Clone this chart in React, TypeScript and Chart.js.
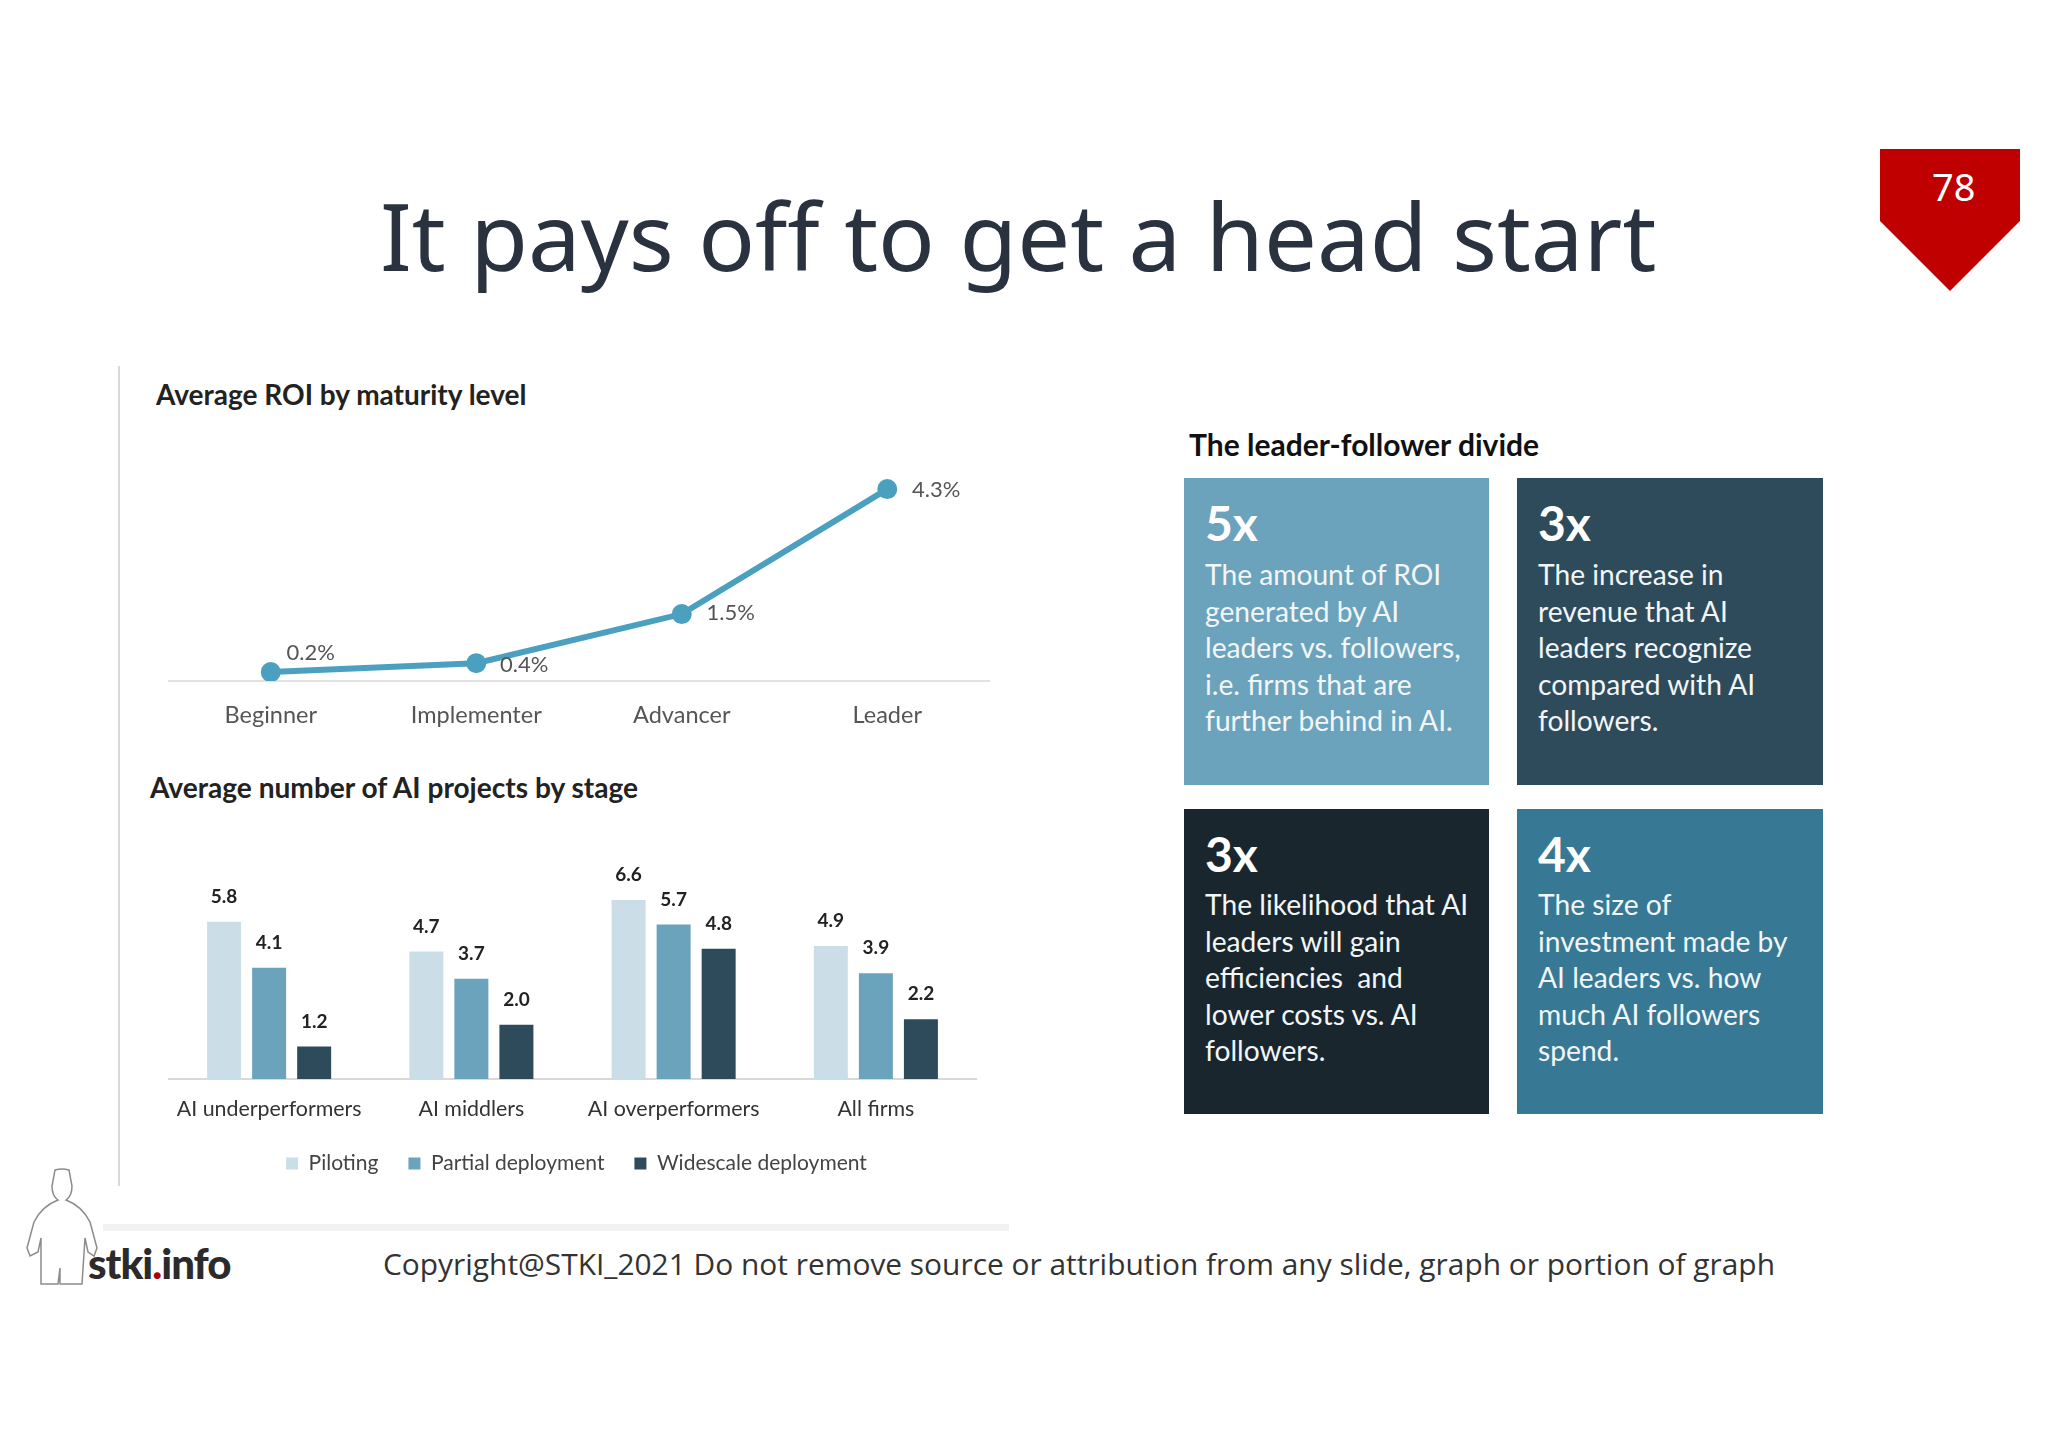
import { useEffect, useRef } from "react";
import { Chart, registerables } from "chart.js";

Chart.register(...registerables);

const roiLevels = ["Beginner", "Implementer", "Advancer", "Leader"];
const roiValues = [0.2, 0.4, 1.5, 4.3];

const projectGroups = ["AI underperformers", "AI middlers", "AI overperformers", "All firms"];
const piloting = [5.8, 4.7, 6.6, 4.9];
const partialDeployment = [4.1, 3.7, 5.7, 3.9];
const widescaleDeployment = [1.2, 2.0, 4.8, 2.2];

const cards = [
  { big: "5x", bg: "#6CA3BC", left: 1184, top: 478, lines: ["The amount of ROI", "generated by AI", "leaders vs. followers,", "i.e. firms that are", "further behind in AI."] },
  { big: "3x", bg: "#2E4B5C", left: 1517, top: 478, lines: ["The increase in", "revenue that AI", "leaders recognize", "compared with AI", "followers."] },
  { big: "3x", bg: "#1A262E", left: 1184, top: 809, lines: ["The likelihood that AI", "leaders will gain", "efficiencies  and", "lower costs vs. AI", "followers."] },
  { big: "4x", bg: "#377994", left: 1517, top: 809, lines: ["The size of", "investment made by", "AI leaders vs. how", "much AI followers", "spend."] },
];

const FONT = "Lato";

// value labels, drawn next to each element of a dataset
const valueLabels = {
  id: "valueLabels",
  afterDatasetsDraw(chart: any, _args: any, opts: any) {
    const { ctx } = chart;
    chart.data.datasets.forEach((ds: any, d: number) => {
      chart.getDatasetMeta(d).data.forEach((el: any, i: number) => {
        const off = opts.offsets ? opts.offsets[i] : [0, opts.dy];
        ctx.save();
        ctx.font = opts.font;
        ctx.fillStyle = opts.color;
        ctx.textAlign = "center";
        ctx.textBaseline = "middle";
        ctx.fillText(opts.format(ds.data[i]), el.x + off[0], el.y + off[1]);
        ctx.restore();
      });
    });
  },
};

// legend sits a little right of the canvas centre in the original
const nudgeLegend = {
  id: "nudgeLegend",
  afterLayout(chart: any) {
    chart.legend.left += 4;
    chart.legend.right += 4;
  },
};

function RoiChart() {
  const canvasRef = useRef<HTMLCanvasElement | null>(null);

  useEffect(() => {
    if (!canvasRef.current) return;
    const chart = new Chart(canvasRef.current, {
      type: "line",
      data: {
        labels: roiLevels,
        datasets: [
          {
            data: roiValues,
            borderColor: "#4BA0BF",
            backgroundColor: "#4BA0BF",
            borderWidth: 6,
            pointRadius: 7,
            tension: 0,
          },
        ],
      },
      plugins: [valueLabels],
      options: {
        animation: false,
        responsive: false,
        devicePixelRatio: 1,
        layout: { padding: 0, autoPadding: false },
        plugins: {
          legend: { display: false },
          tooltip: { enabled: false },
          valueLabels: {
            font: `22px ${FONT}`,
            color: "#555",
            format: (v: number) => `${v.toFixed(1)}%`,
            offsets: [[40, -19], [48, 2], [49, -1], [49, 1]],
          },
        } as any,
        scales: {
          x: {
            offset: true,
            grid: { display: false, tickLength: 20 },
            border: { color: "#E2E2E2", width: 2 },
            ticks: { color: "#555", padding: 0, font: { family: FONT, size: 23.5 }, autoSkip: false, maxRotation: 0 },
            afterFit: (s: any) => {
              s.height = 50;
            },
          },
          y: { display: false, min: 0, max: 5.4 },
        },
      },
    });
    return () => chart.destroy();
  }, []);

  return <canvas ref={canvasRef} width={822} height={291} style={{ position: "absolute", left: 168, top: 440 }} />;
}

function ProjectsChart() {
  const canvasRef = useRef<HTMLCanvasElement | null>(null);

  useEffect(() => {
    if (!canvasRef.current) return;
    const bar = { categoryPercentage: 0.668, barPercentage: 0.755 };
    const chart = new Chart(canvasRef.current, {
      type: "bar",
      data: {
        labels: projectGroups,
        datasets: [
          { label: "Piloting", data: piloting, backgroundColor: "#CBDDE7", ...bar },
          { label: "Partial deployment", data: partialDeployment, backgroundColor: "#6CA3BC", ...bar },
          { label: "Widescale deployment", data: widescaleDeployment, backgroundColor: "#2E4B5C", ...bar },
        ],
      },
      plugins: [valueLabels, nudgeLegend],
      options: {
        animation: false,
        responsive: false,
        devicePixelRatio: 1,
        layout: { padding: 0 },
        plugins: {
          tooltip: { enabled: false },
          legend: {
            position: "bottom",
            labels: { boxWidth: 12, boxHeight: 12, padding: 30, color: "#444", font: { family: FONT, size: 21 } },
          },
          valueLabels: {
            font: `bold 19px ${FONT}`,
            color: "#222",
            dy: -25,
            format: (v: number) => v.toFixed(1),
          },
        } as any,
        scales: {
          x: {
            grid: { display: false, tickLength: 17 },
            border: { color: "#D9D9D9", width: 2 },
            ticks: { color: "#333", padding: 0, font: { family: FONT, size: 21.4 }, autoSkip: false, maxRotation: 0 },
            afterFit: (s: any) => {
              s.height = 44;
            },
          },
          y: { display: false, min: 0, max: 8 },
        },
      },
    });
    return () => chart.destroy();
  }, []);

  return <canvas ref={canvasRef} width={809} height={322} style={{ position: "absolute", left: 168, top: 862 }} />;
}

const abs = (left: number, top: number, rest: any = {}) => ({ position: "absolute" as const, left, top, whiteSpace: "pre" as const, ...rest });

export default function App() {
  return (
    <div style={{ position: "absolute", left: 0, top: 0, width: 2048, height: 1448, background: "#fff", overflow: "hidden", fontFamily: FONT }}>
      <div style={abs(380, 175, { fontFamily: "Noto Sans", fontSize: 94, lineHeight: "120px", color: "#2A3240" })}>It pays off to get a head start</div>

      <svg width={2048} height={1448} style={{ position: "absolute", left: 0, top: 0 }}>
        <polygon points="1880,149 2020,149 2020,221 1950,291 1880,221" fill="#C00000" />
        <rect x={118} y={366} width={2} height={820} fill="#D9D9D9" />
        <rect x={103} y={1224} width={906} height={7} fill="#F2F2F2" />
        {/* logo figure */}
        <path
          d="M55 1170 Q62 1168 69 1170 L72 1186 Q72 1196 66 1200 Q82 1206 90 1222 L97 1248 L94 1256 L88 1252 L85 1238 L82 1284 L60 1284 L60 1268 L58 1284 L41 1284 L41 1238 L38 1252 L30 1256 L27 1248 L34 1222 Q42 1206 58 1200 Q52 1196 52 1186 Z"
          fill="none"
          stroke="#8C8C8C"
          strokeWidth={1.5}
        />
      </svg>

      <div style={abs(1932, 164, { fontFamily: "Noto Sans", fontSize: 38, lineHeight: "44px", color: "#fff" })}>78</div>

      <div style={abs(156, 379, { fontWeight: 700, fontSize: 28, lineHeight: "30px", color: "#222" })}>Average ROI by maturity level</div>
      <RoiChart />
      <div style={abs(150, 772, { fontWeight: 700, fontSize: 28.1, lineHeight: "30px", color: "#222" })}>Average number of AI projects by stage</div>
      <ProjectsChart />

      <div style={abs(1189, 428, { fontWeight: 700, fontSize: 30, lineHeight: "32px", color: "#111" })}>The leader-follower divide</div>
      {cards.map((c, i) => (
        <div key={i} style={{ position: "absolute", left: c.left, top: c.top, width: i % 2 ? 306 : 305, height: i < 2 ? 307 : 305, background: c.bg, color: "#fff" }}>
          <div style={abs(21, 17, { fontWeight: 700, fontSize: 48, lineHeight: "56px" })}>{c.big}</div>
          {c.lines.map((line, j) => (
            <div key={j} style={abs(21, (i < 2 ? 78 : 77) + j * 36.5, { fontSize: 28.2, lineHeight: "36px", color: "#F2F6F8" })}>
              {line}
            </div>
          ))}
        </div>
      ))}

      <div style={abs(88, 1240, { fontWeight: 900, fontSize: 42, lineHeight: "46px", color: "#2B2B2B", letterSpacing: -1 })}>
        stki<span style={{ color: "#B00000" }}>.</span>info
      </div>
      <div style={abs(383, 1244, { fontFamily: "Open Sans", fontSize: 29.9, lineHeight: "40px", color: "#333" })}>
        Copyright@STKI_2021 Do not remove source or attribution from any slide, graph or portion of graph
      </div>
    </div>
  );
}
